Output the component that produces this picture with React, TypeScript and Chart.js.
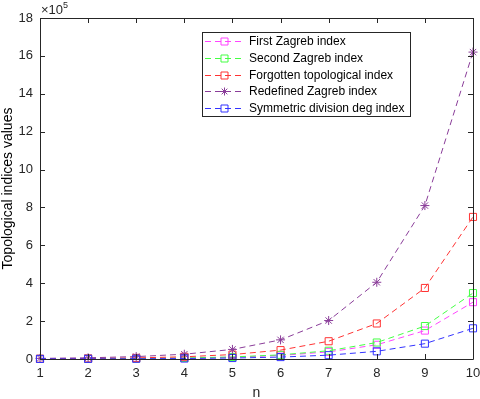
import React, { useEffect, useRef } from "react";
import { Chart, registerables } from "chart.js";

Chart.register(...registerables);

const nValues = [1, 2, 3, 4, 5, 6, 7, 8, 9, 10];
const firstZagreb = [600, 1200, 2300, 4700, 9400, 18800, 37500, 75000, 150000, 300000];
const secondZagreb = [700, 1400, 2700, 5400, 10900, 21800, 43500, 87000, 174000, 348000];
const forgotten = [1500, 2900, 5900, 11700, 23400, 46900, 93800, 187500, 375000, 750000];
const redefined = [3200, 6300, 12700, 25300, 50600, 101000, 203000, 405000, 810000, 1620000];
const symmetric = [300, 600, 1300, 2500, 5100, 10100, 20300, 40500, 81000, 162000];
const seriesLabels = [
  "First Zagreb index",
  "Second Zagreb index",
  "Forgotten topological index",
  "Redefined Zagreb index",
  "Symmetric division deg index",
];
const seriesColors = ["#ff44ff", "#44ff44", "#ff3333", "#8a3d99", "#3333ff"];
const seriesMarkers = ["rect", "rect", "rect", "star", "rect"];
const yTickStep = 200000;
const yMax = 1800000;

const FONT = "'Liberation Sans', Arial, sans-serif";
const AXIS_COLOR = "#262626";
const DASH = [6, 4];

const framePlugin = {
  id: "frame",
  afterDraw(chart: any) {
    const { ctx, chartArea } = chart;
    const { left, right, top, bottom } = chartArea;
    const xs = chart.scales.x;
    const ys = chart.scales.y;
    ctx.save();
    ctx.strokeStyle = AXIS_COLOR;
    ctx.lineWidth = 1;
    ctx.beginPath();
    ctx.rect(Math.round(left) + 0.5, Math.round(top) + 0.5, Math.round(right - left), Math.round(bottom - top));
    ctx.stroke();
    // inward ticks
    ctx.beginPath();
    for (const v of nValues) {
      const px = Math.round(xs.getPixelForValue(v)) + 0.5;
      ctx.moveTo(px, bottom);
      ctx.lineTo(px, bottom - 5);
      ctx.moveTo(px, top);
      ctx.lineTo(px, top + 5);
    }
    for (let v = 0; v <= yMax; v += yTickStep) {
      const py = Math.round(ys.getPixelForValue(v)) + 0.5;
      ctx.moveTo(left, py);
      ctx.lineTo(left + 5, py);
      ctx.moveTo(right, py);
      ctx.lineTo(right - 5, py);
    }
    ctx.stroke();
    // exponent label
    ctx.fillStyle = AXIS_COLOR;
    ctx.textBaseline = "alphabetic";
    ctx.textAlign = "left";
    ctx.font = `13px ${FONT}`;
    ctx.fillText("\u00d710", left + 1, top - 4);
    const w = ctx.measureText("\u00d710").width;
    ctx.font = `9px ${FONT}`;
    ctx.fillText("5", left + 1 + w, top - 10);

    // legend
    const bx = 202.5, by = 32.5, bw = 208, bh = 84;
    ctx.fillStyle = "#ffffff";
    ctx.fillRect(bx, by, bw, bh);
    ctx.strokeStyle = AXIS_COLOR;
    ctx.strokeRect(bx, by, bw, bh);
    ctx.font = `12px ${FONT}`;
    ctx.textBaseline = "middle";
    chart.data.datasets.forEach((ds: any, i: number) => {
      const y = Math.round(41 + i * 16.8) + 0.5;
      ctx.strokeStyle = ds.borderColor;
      ctx.setLineDash(DASH);
      ctx.beginPath();
      ctx.moveTo(205, y);
      ctx.lineTo(245, y);
      ctx.stroke();
      ctx.setLineDash([]);
      ctx.beginPath();
      if (ds.pointStyle === "star") {
        const r = 4;
        for (let k = 0; k < 4; k++) {
          const a = (k * Math.PI) / 4;
          ctx.moveTo(224.5 - r * Math.cos(a), y - r * Math.sin(a));
          ctx.lineTo(224.5 + r * Math.cos(a), y + r * Math.sin(a));
        }
      } else {
        ctx.rect(221, y - 3.5, 7, 7);
      }
      ctx.stroke();
      ctx.fillStyle = "#000000";
      ctx.fillText(ds.label, 249, y + 0.5);
    });
    ctx.restore();
  },
};

export default function App() {
  const ref = useRef<HTMLCanvasElement | null>(null);
  useEffect(() => {
    document.body.style.margin = "0";
    const series = [firstZagreb, secondZagreb, forgotten, redefined, symmetric];
    const chart = new Chart(ref.current as HTMLCanvasElement, {
      type: "line",
      data: {
        datasets: series.map((vals, i) => ({
          label: seriesLabels[i],
          data: vals.map((v, j) => ({ x: nValues[j], y: v })),
          borderColor: seriesColors[i],
          backgroundColor: "transparent",
          borderWidth: 1,
          borderDash: DASH,
          pointStyle: seriesMarkers[i] as any,
          pointRadius: seriesMarkers[i] === "star" ? 4.5 : 5,
          pointBorderWidth: 1,
          pointBorderColor: seriesColors[i],
          pointBackgroundColor: "transparent",
          tension: 0,
          order: 5 - i,
          fill: false,
          clip: false,
        })),
      },
      options: {
        animation: false,
        responsive: false,
        maintainAspectRatio: false,
        layout: { padding: { top: 18, right: 7, left: 0, bottom: 0 } },
        plugins: { legend: { display: false }, tooltip: { enabled: false } },
        scales: {
          x: {
            type: "linear",
            min: 1,
            max: 10,
            grid: { display: false, drawTicks: false },
            border: { display: false },
            ticks: {
              stepSize: 1,
              color: AXIS_COLOR,
              font: { family: FONT, size: 13 },
              padding: 7,
              maxRotation: 0,
            },
            title: {
              display: true,
              text: "n",
              color: AXIS_COLOR,
              font: { family: FONT, size: 14 },
              padding: { top: 0, bottom: -3 },
            },
            afterFit(scale: any) {
              scale.height = 40;
              scale.paddingLeft = 0;
              scale.paddingRight = 0;
            },
          },
          y: {
            type: "linear",
            min: 0,
            max: yMax,
            grid: { display: false, drawTicks: false },
            border: { display: false },
            ticks: {
              stepSize: yTickStep,
              color: AXIS_COLOR,
              font: { family: FONT, size: 13 },
              padding: 7,
              callback: (v: any) => String(Number(v) / 100000),
            },
            title: {
              display: true,
              text: "Topological indices values",
              color: "#000000",
              font: { family: FONT, size: 14 },
              padding: { top: 0, bottom: 0 },
            },
            afterFit(scale: any) {
              scale.width = 40;
              scale.paddingTop = 0;
              scale.paddingBottom = 0;
            },
          },
        },
      },
      plugins: [framePlugin],
    });
    return () => chart.destroy();
  }, []);
  return (
    <div style={{ position: "relative", width: 480, height: 399 }}>
      <canvas ref={ref} width={480} height={399} style={{ display: "block" }} />
    </div>
  );
}
